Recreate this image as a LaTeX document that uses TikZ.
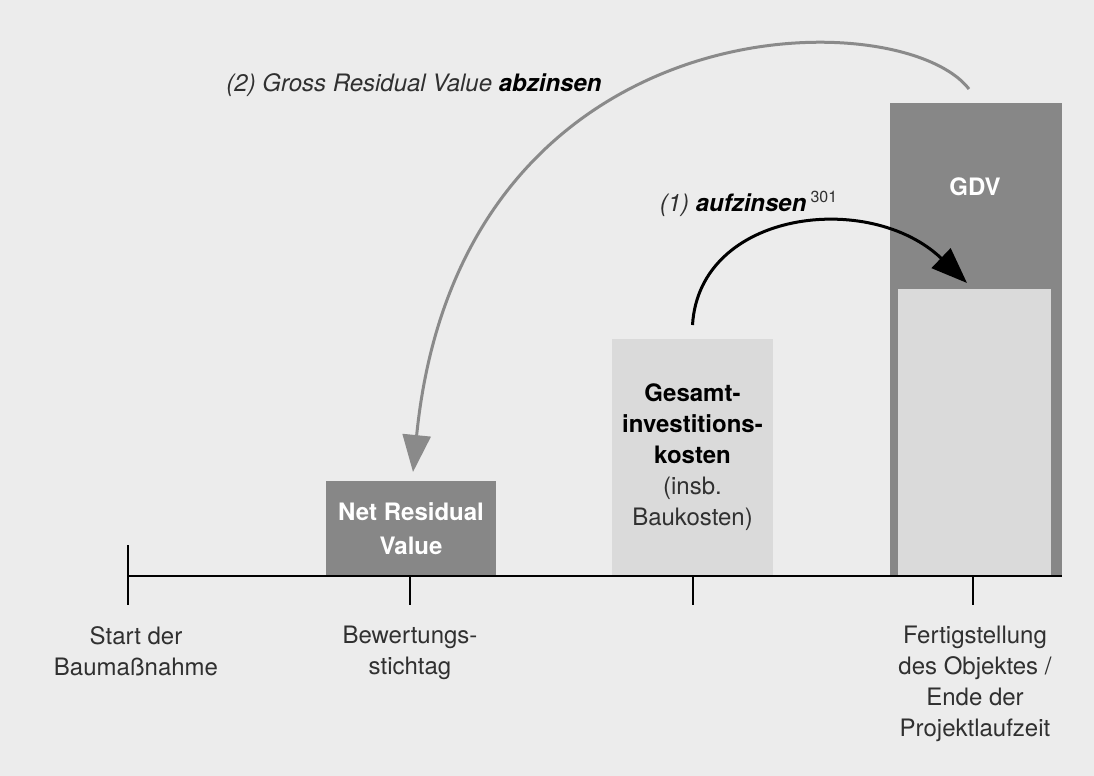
\documentclass[tikz,border=0pt]{standalone}
\usepackage{fontspec}
\setmainfont{TeX Gyre Heros}
\usetikzlibrary{arrows.meta}
\definecolor{bg}{HTML}{ECECEC}
\definecolor{darkfill}{HTML}{878787}
\definecolor{lightfill}{HTML}{DADADA}
\definecolor{txt}{HTML}{303030}
\definecolor{arcgray}{HTML}{8A8A8A}
\begin{document}
\begin{tikzpicture}[x=0.5pt, y=-0.5pt,
  bar/.style={inner sep=0pt, outer sep=0pt, anchor=south, align=center, font=\fontsize{12}{15.5}\selectfont},
  dark/.style={bar, fill=darkfill, text=white},
  light/.style={bar, fill=lightfill, text=black},
  lbl/.style={inner sep=0pt, anchor=north, align=center, text=txt, font=\fontsize{12}{15.5}\selectfont}]
\fill[bg] (0,0) rectangle (1094,776);
\useasboundingbox (0,0) rectangle (1094,776);
% bars
\node[dark, minimum width=86pt, minimum height=236.5pt] (gdv) at (976,576) {};
\node[light, minimum width=76.5pt, minimum height=143.5pt] (inner) at (974.5,576) {};
\node[text=white, font=\bfseries\fontsize{12}{15.5}\selectfont] (gdvtxt) at (975,187) {GDV};
\node[dark, minimum width=85pt, minimum height=47.5pt, font=\bfseries\fontsize{12}{17}\selectfont] (nrv) at (411,576) {Net Residual\\Value};
\node[light, minimum width=80.5pt, minimum height=118.5pt] (gik) at (692.5,576)
  {\textbf{Gesamt-}\\\textbf{investitions-}\\\textbf{kosten}\\{\color{txt}(insb.}\\{\color{txt}Baukosten)}};
% time axis
\coordinate (t0) at (128,576);
\coordinate (tend) at (1062,576);
\draw[line width=0.8pt] (t0) -- (tend);
\draw[line width=0.8pt] (128,545) -- (128,605);
\foreach \x in {410,693,973}
  \draw[line width=0.8pt] (\x,576) -- (\x,605);
\node[lbl] (start) at (136,626) {Start der\\Baumaßnahme};
\node[lbl] (stichtag) at (410,626) {Bewertungs-\\stichtag};
\node[lbl] (ende) at (975,626) {Fertigstellung\\des Objektes /\\Ende der\\Projektlaufzeit};
% arrows
\draw[arcgray, line width=1.5pt, -{Triangle[length=18.5pt, width=14pt]}]
  ([xshift=-3.5pt, yshift=7pt]gdv.north) .. controls +(-69,-89) and +(47,-472) .. ([xshift=1pt, yshift=4.5pt]nrv.north);
\draw[black, line width=1.5pt, -{Triangle[length=18pt, width=13.5pt]}]
  ([yshift=7pt]gik.north) .. controls +(7,-115) and +(-97,-93) .. ([xshift=-3.75pt, yshift=3pt]inner.north);
\node[text=txt, font=\itshape\fontsize{12}{15}\selectfont] (lbltwo) at (414,85) {(2) Gross Residual Value \textbf{\color{black}abzinsen}};
\node[text=txt, font=\itshape\fontsize{12}{15}\selectfont] (lblone) at (749,204) {(1) \textbf{\color{black}aufzinsen}\,\textup{\textsuperscript{301}}};
\end{tikzpicture}
\end{document}
